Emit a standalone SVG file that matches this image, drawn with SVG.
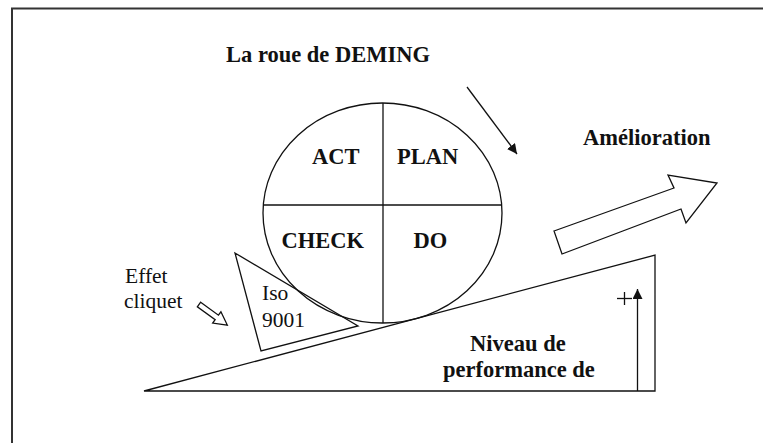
<svg xmlns="http://www.w3.org/2000/svg" width="763" height="443" viewBox="0 0 763 443">
  <style>
    .ln { fill: none; stroke: #111; stroke-width: 1.3; }
    .shape { fill: #fff; stroke: #111; stroke-width: 1.3; stroke-linejoin: miter; }
    text { font-family: 'Liberation Serif', 'DejaVu Serif', serif; fill: #111; }
    .b { font-weight: bold; font-size: 22.5px; }
    .r { font-weight: normal; font-size: 21.5px; }
  </style>
  <defs>
    <marker id="ah" viewBox="0 0 10 10" refX="10" refY="5" markerWidth="10" markerHeight="10" markerUnits="userSpaceOnUse" orient="auto">
      <path d="M0,0 L10,5 L0,10 Z" fill="#111"/>
    </marker>
    <marker id="ah2" viewBox="0 0 10 10" refX="10" refY="5" markerWidth="12" markerHeight="10" markerUnits="userSpaceOnUse" orient="auto">
      <path d="M0,0 L10,5 L0,10 Z" fill="#111"/>
    </marker>
  </defs>

  <rect width="763" height="443" fill="#fff"/>

  <!-- frame -->
  <path d="M12,443 L12,8.5 L763,8.5" fill="none" stroke="#333" stroke-width="2"/>

  <g id="title">
    <text class="b" x="226" y="62" font-family="Liberation Serif, serif" font-size="23">La roue de DEMING</text>
  </g>

  <g id="ramp">
    <polygon class="ln" points="144,391 655,255 655,391"/>
  </g>

  <g id="wheel">
    <ellipse class="ln" cx="382.5" cy="213" rx="119.5" ry="110"/>
    <line class="ln" x1="383" y1="103" x2="383" y2="323"/>
    <line class="ln" x1="263" y1="205" x2="502" y2="205"/>
  </g>

  <g id="act"><text class="b" x="312" y="164" font-family="Liberation Serif, serif">ACT</text></g>
  <g id="plan"><text class="b" x="397" y="164" font-family="Liberation Serif, serif">PLAN</text></g>
  <g id="check"><text class="b" x="281.5" y="248" font-family="Liberation Serif, serif">CHECK</text></g>
  <g id="do"><text class="b" x="413.5" y="248" font-family="Liberation Serif, serif">DO</text></g>

  <g id="iso">
    <polygon class="ln" points="235,253 261,351 358,326"/>
    <text class="r" x="262" y="300" font-family="Liberation Serif, serif" font-size="20.5">Iso</text>
    <text class="r" x="262" y="327" font-family="Liberation Serif, serif" font-size="20.5">9001</text>
  </g>

  <g id="effet-cliquet">
    <text class="r" x="125" y="283" font-family="Liberation Serif, serif">Effet</text>
    <text class="r" x="124" y="308" font-family="Liberation Serif, serif">cliquet</text>
  </g>

  <g id="amelioration">
    <text class="b" x="583" y="145" font-family="Liberation Serif, serif" font-size="21.5">Amélioration</text>
  </g>

  <g id="niveau">
    <text class="b" x="470" y="351" font-family="Liberation Serif, serif">Niveau de</text>
    <text class="b" x="443" y="377" font-family="Liberation Serif, serif">performance de</text>
  </g>

  <g id="plus">
    <line class="ln" x1="617" y1="298.5" x2="632" y2="298.5"/>
    <line class="ln" x1="624.5" y1="292" x2="624.5" y2="305"/>
  </g>

  <g id="connectors">
    <line class="ln" x1="467" y1="87" x2="517" y2="154" marker-end="url(#ah)"/>
    <line class="ln" x1="637.5" y1="391" x2="637.5" y2="289" marker-end="url(#ah2)"/>
    <polygon class="shape" points="554,231 674,188 668,175 717,183 686,223 681,209 562,254"/>
    <polygon class="shape" transform="translate(199,304.5) rotate(36)" points="0,-2.8 22,-2.8 22,-7 35,0 22,7 22,2.8 0,2.8"/>
  </g>
</svg>
